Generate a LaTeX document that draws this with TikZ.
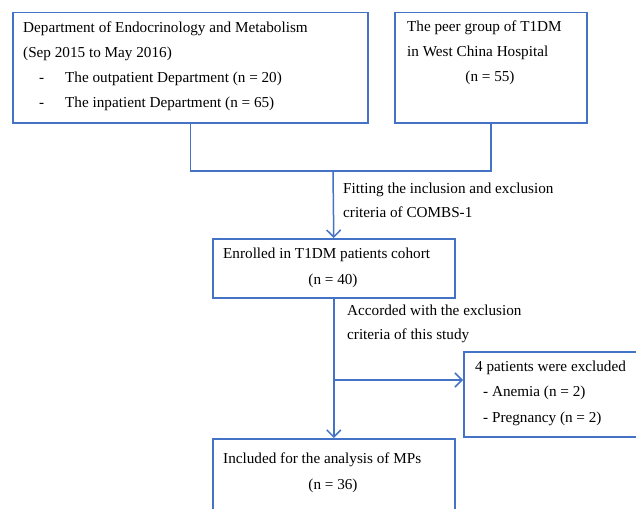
\documentclass[tikz,border=0pt]{standalone}
\usepackage{fontspec}
\setmainfont{Liberation Serif}
\usetikzlibrary{arrows.meta}
\definecolor{boxblue}{RGB}{68,114,196}
\tikzset{
  box/.style={draw=boxblue, line width=1.5pt, anchor=north west, inner sep=0pt},
  txt/.style={anchor=base west, inner sep=0pt, font=\fontsize{15.2}{18}\selectfont},
  ctxt/.style={anchor=base, inner sep=0pt, font=\fontsize{15.2}{18}\selectfont},
  conn/.style={draw=boxblue, line width=1.5pt},
  arr/.style={conn, -{Straight Barb[length=7pt,width=14pt,line width=1.5pt]}}
}
\begin{document}
\begin{tikzpicture}[x=1pt,y=-1pt]
\useasboundingbox (0,0) rectangle (636,508);
\clip (0,0) rectangle (636,508);
% boxes
\node[box, minimum width=355pt, minimum height=110pt] (b1) at (12,12) {};
\node[box, minimum width=192pt, minimum height=110pt] (b2) at (394,12) {};
\node[box, minimum width=242pt, minimum height=59pt] (b3) at (212,238) {};
\node[box, minimum width=242pt, minimum height=95pt] (b4) at (212,438) {};
\node[box, minimum width=190pt, minimum height=85pt] (b5) at (463,351) {};
% texts box 1
\node[txt] (t1a) at (23,33) {Department of Endocrinology and Metabolism};
\node[txt] (t1b) at (23,58) {(Sep 2015 to May 2016)};
\node[txt] (t1c) at (39,83) {-};
\node[txt] (t1d) at (65,83) {The outpatient Department (n = 20)};
\node[txt] (t1e) at (39,107) {-};
\node[txt] (t1f) at (65,107) {The inpatient Department (n = 65)};
% texts box 2
\node[txt] (t2a) at (407,32) {The peer group of T1DM};
\node[txt] (t2b) at (407,57) {in West China Hospital};
\node[ctxt] (t2c) at (490,82) {(n = 55)};
% label 1
\node[txt] (l1a) at (343,193) {Fitting the inclusion and exclusion};
\node[txt] (l1b) at (343,217) {criteria of COMBS-1};
% box 3
\node[txt] (t3a) at (223,258) {Enrolled in T1DM patients cohort};
\node[ctxt] (t3b) at (333,284) {(n = 40)};
% label 2
\node[txt] (l2a) at (347,315) {Accorded with the exclusion};
\node[txt] (l2b) at (347,339) {criteria of this study};
% box 5
\node[txt] (t5a) at (475,371) {4 patients were excluded};
\node[txt] (t5b) at (483,396) {- Anemia (n = 2)};
\node[txt] (t5c) at (483,422) {- Pregnancy (n = 2)};
% box 4
\node[txt] (t4a) at (223,463) {Included for the analysis of MPs};
\node[ctxt] (t4b) at (333,489) {(n = 36)};
% connectors
\coordinate (j) at (333,171);
\coordinate (k) at (333,380);
\draw[conn] (b1.south) |- (j) -| (b2.south);
\draw[arr] (j) -- (b3.north);
\draw[arr] (b3.south) -- (b4.north);
\draw[arr] (k) -- (k -| b5.west);
\end{tikzpicture}
\end{document}
